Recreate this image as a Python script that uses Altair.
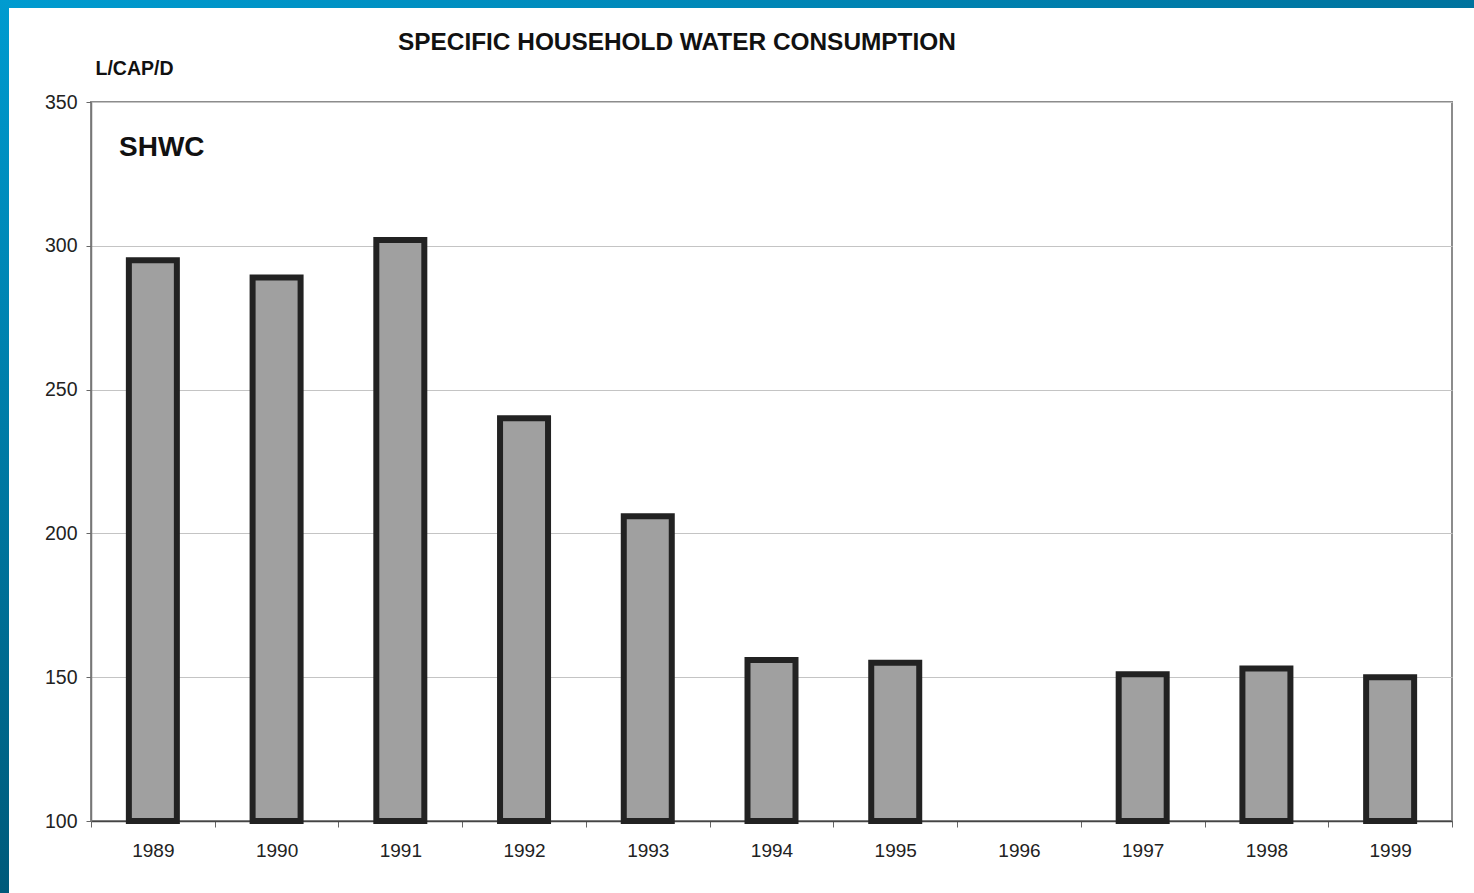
import altair as alt
import pandas as pd

# Specific household water consumption, litres per capita per day
years = ["1989", "1990", "1991", "1992", "1993", "1994", "1995", "1996", "1997", "1998", "1999"]
shwc = [295, 289, 302, 240, 206, 156, 155, None, 151, 153, 150]
y_ticks = [100, 150, 200, 250, 300, 350]

df = pd.DataFrame({"year": years, "shwc": shwc})

FONT = "Liberation Sans"
W, H = 1361, 719
PAD = {"left": 91, "top": 102, "right": 22, "bottom": 72}

bars = alt.Chart(df).mark_bar(
    fill="#a0a0a0", stroke="#222222", strokeWidth=6, size=48
).encode(
    x=alt.X(
        "year:O",
        scale=alt.Scale(domain=years, paddingInner=0, paddingOuter=0),
        axis=alt.Axis(
            title=None, labelAngle=0, labelFontSize=19, labelColor="#222222",
            labelFont=FONT, labelPadding=14, tickBand="extent", tickSize=6,
            tickColor="#666666", domainColor="#444444", domainWidth=1.5, grid=False,
        ),
    ),
    y=alt.Y(
        "shwc:Q",
        scale=alt.Scale(domain=[100, 350], zero=False, nice=False),
        axis=alt.Axis(
            values=y_ticks, title="L/CAP/D", titleAngle=0, titleX=4, titleY=-28,
            titleAlign="left", titleBaseline="alphabetic", titleFontSize=19.5,
            titleFont=FONT, titleFontWeight="bold", titleColor="#111111",
            labelFontSize=19.5, labelFont=FONT, labelColor="#222222", labelPadding=9,
            tickSize=5, tickColor="#666666", domainColor="#777777", domainWidth=1.5,
            grid=True, gridColor="#c4c4c4", gridWidth=1.2,
        ),
    ),
    y2=alt.Y2(datum=100),
)

label = alt.Chart(pd.DataFrame({"t": ["SHWC"]})).mark_text(
    align="left", baseline="alphabetic", fontSize=28, fontWeight="bold",
    font=FONT, color="#111111"
).encode(text="t:N", x=alt.value(28), y=alt.value(54))

title = alt.Chart(pd.DataFrame({"t": ["SPECIFIC HOUSEHOLD WATER CONSUMPTION"]})).mark_text(
    align="left", baseline="alphabetic", fontSize=24.4, fontWeight="bold",
    font=FONT, color="#111111"
).encode(text="t:N", x=alt.value(307), y=alt.value(-52))

# blue slide frame along the top and left edges
one = pd.DataFrame({"k": [0]})
top_band = alt.Chart(one).mark_rect(
    color=alt.Gradient(
        gradient="linear", x1=0, y1=0, x2=1, y2=0,
        stops=[alt.GradientStop(color="#009bd0", offset=0),
               alt.GradientStop(color="#00739e", offset=1)],
    )
).encode(x=alt.value(-91), x2=alt.value(1383), y=alt.value(-102), y2=alt.value(-94))

left_band = alt.Chart(one).mark_rect(
    color=alt.Gradient(
        gradient="linear", x1=0, y1=0, x2=0, y2=1,
        stops=[alt.GradientStop(color="#009bd0", offset=0),
               alt.GradientStop(color="#005a7a", offset=1)],
    )
).encode(x=alt.value(-91), x2=alt.value(-82), y=alt.value(-102), y2=alt.value(791))

chart = alt.layer(bars, label, title, top_band, left_band).properties(
    width=W, height=H, padding=PAD,
    autosize=alt.AutoSizeParams(type="none"),
    background="white",
).configure_view(stroke="#8c8c8c", strokeWidth=2)

chart.save("out.html", embed_options={"renderer": "svg", "actions": False})
